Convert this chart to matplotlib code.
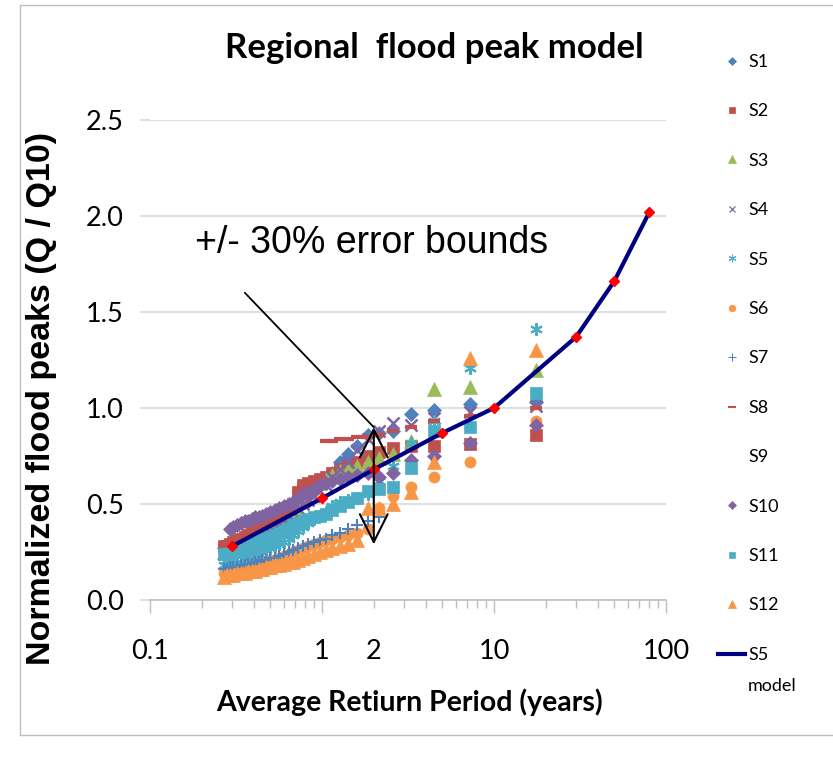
import numpy as np
import matplotlib
matplotlib.use("Agg")
import matplotlib.pyplot as plt
from matplotlib.ticker import FixedLocator, FuncFormatter
from matplotlib.lines import Line2D

nan = np.nan

# return period (years) of each ranked peak, shared by all stations
T = [17.5, 7.3, 4.5, 3.3, 2.6, 2.15, 1.85, 1.6, 1.42, 1.27, 1.15, 1.05, 0.97, 0.9,
     0.83, 0.78, 0.73, 0.68, 0.64, 0.6, 0.56, 0.53, 0.5, 0.47, 0.45, 0.43, 0.41,
     0.39, 0.37, 0.355, 0.34, 0.32, 0.305, 0.29, 0.28, 0.27]

# normalized peaks Q/Q10 per station
S1 = [1.03, 1.02, 0.99, 0.97, 0.88, 0.87, 0.86, 0.80, 0.76, 0.72, 0.66, 0.62, 0.60, 0.58,
      0.55, 0.53, 0.51, 0.49, 0.47, 0.45, 0.43, 0.41, 0.40, 0.38, 0.37, 0.36, 0.35,
      0.34, 0.33, 0.32, 0.31, 0.30, 0.29, 0.28, 0.28, 0.27]
S2 = [0.86, 0.81, 0.80, 0.80, 0.79, 0.77, 0.75, 0.72, 0.70, 0.68, 0.66, 0.64, 0.63, 0.62,
      0.61, 0.60, 0.56, 0.50, 0.46, 0.44, 0.42, 0.41, 0.40, 0.39, 0.38, 0.37, 0.36,
      0.35, 0.34, 0.33, 0.32, 0.31, 0.30, 0.29, 0.28, 0.28]
S3 = [1.20, 1.11, 1.10, 0.83, 0.76, 0.74, 0.72, 0.70, 0.68, 0.67, 0.65, 0.63, 0.61, 0.59,
      0.56, 0.52, 0.46, 0.42, 0.40, 0.39, 0.38, 0.37, 0.36, 0.35, 0.34, 0.33, 0.32,
      0.31, 0.30, 0.30, 0.29, 0.28, 0.27, 0.26, 0.26, 0.25]
S4 = [1.01, 0.98, 0.95, 0.91, 0.92, 0.88, 0.84, 0.78, 0.72, 0.68, 0.64, 0.60, 0.57, 0.54,
      0.52, 0.50, 0.48, 0.46, 0.44, 0.42, 0.40, 0.38, 0.36, 0.35, 0.34, 0.33, 0.32,
      0.31, 0.30, 0.29, 0.28, 0.27, 0.26, 0.25, 0.25, 0.24]
S5 = [1.41, 1.21, 0.93, 0.82, 0.70, 0.62, 0.55, 0.53, 0.52, 0.51, 0.49, 0.46, 0.44, 0.42,
      0.40, 0.38, 0.36, 0.34, 0.32, 0.30, 0.29, 0.28, 0.27, 0.26, 0.25, 0.24, 0.23,
      0.22, 0.21, 0.21, 0.20, 0.20, 0.19, 0.19, 0.18, 0.18]
S6 = [0.93, 0.72, 0.64, 0.59, 0.54, 0.48, 0.37, 0.35, 0.34, 0.33, 0.32, 0.31, 0.30, 0.29,
      0.28, 0.27, 0.26, 0.25, 0.24, 0.23, 0.22, 0.21, 0.21, 0.20, 0.19, 0.19, 0.18,
      0.17, 0.17, 0.16, 0.16, 0.15, 0.15, 0.14, 0.14, 0.14]
S7 = [nan, nan, nan, nan, nan, 0.43, 0.41, 0.39, 0.37, 0.35, 0.34, 0.32, 0.31, 0.30,
      0.29, 0.28, 0.27, 0.26, 0.25, 0.24, 0.23, 0.22, 0.22, 0.21, 0.21, 0.20, 0.20,
      0.19, 0.19, 0.18, 0.18, 0.17, 0.17, 0.17, 0.16, 0.16]
S8 = [1.00, 0.96, 0.93, 0.90, 0.88, 0.86, 0.85, 0.85, 0.84, 0.84, 0.83, 0.83, 0.64, 0.62,
      0.61, 0.60, 0.56, 0.50, 0.46, 0.44, 0.42, 0.41, 0.40, 0.39, 0.38, 0.37, 0.36,
      0.35, 0.34, 0.33, 0.32, 0.31, 0.30, 0.29, 0.29, 0.28]
S9 = []
S10 = [0.91, 0.82, 0.75, 0.73, 0.66, 0.64, 0.66, 0.65, 0.64, 0.63, 0.62, 0.61, 0.60, 0.58,
       0.56, 0.55, 0.53, 0.51, 0.50, 0.49, 0.48, 0.47, 0.46, 0.45, 0.44, 0.43, 0.43,
       0.42, 0.41, 0.41, 0.40, 0.39, 0.38, 0.37, nan, nan]
S11 = [1.08, 0.90, 0.88, 0.69, 0.59, 0.58, 0.57, 0.53, 0.51, 0.49, 0.47, 0.45, 0.44, 0.43,
       0.42, 0.41, 0.40, 0.39, 0.37, 0.36, 0.35, 0.34, 0.33, 0.32, 0.31, 0.30, 0.29,
       0.28, 0.27, 0.26, 0.26, 0.25, 0.25, 0.24, 0.24, 0.24]
S12 = [1.30, 1.26, 0.72, 0.56, 0.50, 0.48, 0.48, 0.31, 0.29, 0.28, 0.27, 0.26, 0.25, 0.24,
       0.23, 0.22, 0.21, 0.20, 0.20, 0.19, 0.18, 0.18, 0.17, 0.17, 0.16, 0.16, 0.15,
       0.15, 0.15, 0.14, 0.14, 0.14, 0.13, 0.13, 0.13, 0.12]

# regional model fitted to S5
T_model = [0.3, 1, 2, 5, 10, 30, 50, 80]
Q_model = [0.28, 0.53, 0.68, 0.87, 1.0, 1.37, 1.66, 2.02]

calib = ['Lato', 'DejaVu Sans']
arial = ['Liberation Sans', 'DejaVu Sans']

# name, values, marker, color, size, edge width
styles = [
    ('S1', S1, 'D', '#4F81BD', 7.5, 0),
    ('S2', S2, 's', '#C0504D', 8, 0),
    ('S3', S3, '^', '#9BBB59', 9.5, 0),
    ('S4', S4, 'x', '#8064A2', 8, 1.8),
    ('S5', S5, (6, 2, 0), '#4BACC6', 9, 1.5),
    ('S6', S6, 'o', '#F79646', 8, 0),
    ('S7', S7, '+', '#4F81BD', 9, 1.5),
    ('S8', S8, '_', '#C0504D', 9, 3),
    ('S9', S9, 'None', 'none', 7, 0),
    ('S10', S10, 'D', '#8064A2', 7.5, 0),
    ('S11', S11, 's', '#4BACC6', 8, 0),
    ('S12', S12, '^', '#F79646', 9.5, 0),
]

fig = plt.figure(figsize=(8.33, 7.58), dpi=100)
ax = fig.add_axes([150/833, 1-600/758, 516/833, 480/758])

handles = []
for name, vals, mk, col, ms, mew in styles:
    xs = T[:len(vals)]
    ax.plot(xs, vals, ls='none', marker=mk, color=col, markersize=ms,
            markeredgewidth=mew if mew else 0.5, markeredgecolor=col, zorder=3)
    handles.append(Line2D([], [], ls='none', marker=mk, color=col,
                          markersize=ms*0.6, markeredgewidth=mew*0.5 if mew else 0.5,
                          markeredgecolor=col, label=name))

ax.plot(T_model, Q_model, color='#000080', lw=3, zorder=4)
ax.plot(T_model, Q_model, ls='none', marker='D', color='#FF0000', markersize=5, zorder=5)
handles.append(Line2D([], [], color='#000080', lw=3, label='S5'))

ax.set_xscale('log')
ax.set_xlim(0.1, 100)
ax.set_ylim(0, 2.5)
ax.set_yticks([0, 0.5, 1.0, 1.5, 2.0, 2.5])
ax.yaxis.set_major_formatter(FuncFormatter(lambda v, p: f'{v:.1f}'))
ax.xaxis.set_major_locator(FixedLocator([0.1, 1, 10, 100]))
ax.xaxis.set_major_formatter(FuncFormatter(lambda v, p: f'{v:g}'))
minors = [m * d for d in (0.1, 1, 10) for m in range(2, 10)]
ax.xaxis.set_minor_locator(FixedLocator(minors))
ax.xaxis.set_minor_formatter(FuncFormatter(lambda v, p: '2' if abs(v - 2) < 1e-9 else ''))

ax.grid(axis='y', color='#D9D9D9', lw=1.2)
ax.set_axisbelow(True)
for s in ('top', 'right', 'left'):
    ax.spines[s].set_visible(False)
ax.spines['bottom'].set_color('#BFBFBF')
ax.spines['bottom'].set_linewidth(1.2)

ax.tick_params(axis='x', which='major', length=9, color='#BFBFBF', width=1, pad=19)
ax.tick_params(axis='x', which='minor', length=6, color='#BFBFBF', width=1, pad=22)
ax.tick_params(axis='y', length=7, color='#D9D9D9', width=1.2, pad=12)
for lab in ax.get_xticklabels(which='both') + ax.get_yticklabels():
    lab.set_family(calib)
    lab.set_fontsize(19.5)

ax.set_xlabel('Average Retiurn Period (years)', family=calib, fontsize=20.5,
              fontweight='bold')
ax.xaxis.set_label_coords(0.502, -0.185)
ax.set_ylabel('Normalized flood peaks (Q / Q10)', family=arial, fontsize=24.5,
              fontweight='bold')
ax.yaxis.set_label_coords(-0.18, 0.42)

fig.text(434/833, 1-48/758, 'Regional  flood peak model', family=calib, fontsize=25,
         fontweight='bold', ha='center', va='center')

# error bound annotation
ax.annotate('', xy=(2, 0.29), xytext=(2, 0.90),
            arrowprops=dict(arrowstyle='<->,head_length=1.0,head_width=0.5',
                            color='black', lw=1.5, mutation_scale=20,
                            shrinkA=0, shrinkB=0), zorder=6)
ax.annotate('', xy=(2, 0.90), xytext=(0.356, 1.60),
            arrowprops=dict(arrowstyle='-', color='black', lw=1.3,
                            shrinkA=0, shrinkB=0), zorder=6)
ax.text(0.183, 1.86, '+/- 30% error bounds', family=arial, fontsize=27,
        ha='left', va='center')

leg = fig.legend(handles=handles, loc='upper left', bbox_to_anchor=(718/833, 1-54/758),
                 frameon=False, prop={'family': calib, 'size': 13},
                 handlelength=1.5, handletextpad=0.2, labelspacing=1.85,
                 borderpad=0, borderaxespad=0)
fig.text(748/833, 1-686/758, 'model', family=calib, fontsize=13, va='center')

# chart area border
fig.add_artist(plt.Line2D([20/833, 20/833], [1-735/758, 1-5/758], color='#BFBFBF', lw=1))
fig.add_artist(plt.Line2D([20/833, 1], [1-5/758, 1-5/758], color='#BFBFBF', lw=1))
fig.add_artist(plt.Line2D([20/833, 1], [1-735/758, 1-735/758], color='#BFBFBF', lw=1))

fig.savefig('out.png', dpi=100)
